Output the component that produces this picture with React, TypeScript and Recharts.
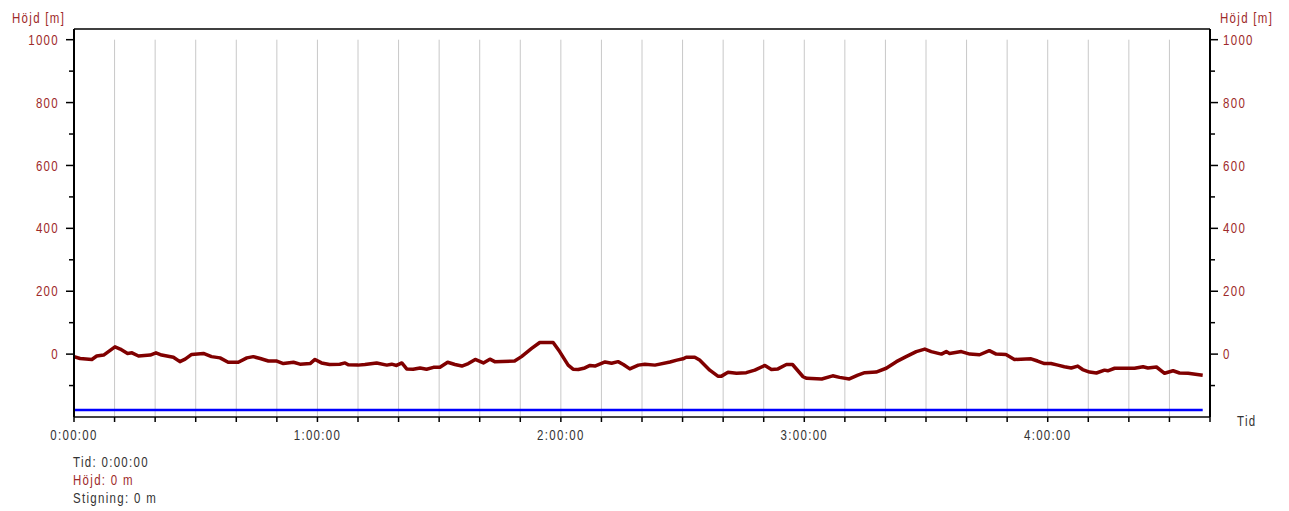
import React from 'react';
import { LineChart, Line, XAxis, YAxis, ReferenceLine } from 'recharts';

// Elevation profile: time in minutes, height in metres
const timeMin = [
  0, 1.5, 4.4, 5.6, 7.3, 10.1, 11.4, 13.2, 14.3, 15.9, 18.8, 20.2, 21.6, 24.5, 26.1, 27.4, 29.0, 31.9, 33.9, 36.0,
  38.0, 40.5, 42.6, 44.2, 45.9, 47.9, 50.0, 51.6, 54.1, 55.7, 58.2, 59.4, 61.0, 63.0, 65.5, 66.8, 67.6, 70.0, 71.7, 74.6,
  77.1, 78.3, 79.5, 80.8, 82.0, 83.6, 85.3, 86.9, 88.6, 90.2, 92.1, 93.9, 95.6, 97.2, 98.9, 100.9, 102.5, 103.7, 108.6, 110.3,
  112.8, 114.8, 118.1, 119.7, 121.8, 123.0, 124.3, 125.9, 127.2, 128.4, 130.9, 132.5, 134.1, 135.4, 137.0, 139.1, 140.7, 143.2, 146.9, 148.6,
  150.1, 150.9, 153.0, 154.2, 156.7, 158.7, 159.6, 161.2, 163.3, 165.7, 167.8, 170.3, 171.9, 173.5, 175.6, 177.1, 179.7, 180.6, 184.3, 187.0,
  188.7, 191.1, 193.2, 194.9, 197.7, 200.2, 202.7, 205.1, 207.6, 209.7, 211.3, 213.8, 215.0, 215.8, 218.7, 220.8, 223.2, 225.6, 227.3, 229.7,
  231.8, 233.4, 235.9, 237.5, 239.2, 240.8, 242.5, 244.1, 245.8, 247.4, 248.6, 250.3, 252.0, 254.0, 254.8, 256.5, 261.4, 263.5, 264.7, 266.8,
  268.8, 270.9, 272.5, 274.6, 278.2,
];
const heightM = [
  -8, -14, -17, -6, -3, 23, 16, 2, 4, -6, -3, 4, -3, -10, -24, -16, -1, 2, -8, -12,
  -26, -26, -12, -8, -14, -22, -22, -30, -26, -32, -30, -17, -28, -33, -32, -28, -34, -35, -33, -28,
  -35, -32, -36, -28, -47, -48, -44, -48, -42, -42, -26, -33, -38, -30, -17, -28, -16, -24, -22, -8,
  18, 37, 37, 8, -35, -48, -49, -44, -36, -38, -25, -29, -24, -33, -47, -35, -32, -35, -25, -19,
  -15, -10, -10, -19, -51, -70, -70, -58, -61, -59, -51, -36, -49, -47, -33, -33, -72, -77, -79, -69,
  -74, -79, -67, -59, -57, -45, -24, -8, 8, 16, 8, 0, 8, 2, 8, 0, -2, 11, 0, -1,
  -17, -16, -15, -22, -30, -30, -35, -40, -44, -38, -49, -57, -60, -51, -53, -45, -45, -40, -44, -41,
  -61, -53, -60, -61, -67,
];

// Blue (Stigning) baseline
const climbTime = [0, 278.2];
const climbLevel = [-178, -178];

// Cursor marker at the right edge
const cursorTime = 280;
const cursorRange = [-200, -124];

const xDomain = [0, 280];
const yDomain = [-200, 1034];
const xTicks = [0, 10, 20, 30, 40, 50, 60, 70, 80, 90, 100, 110, 120, 130, 140, 150, 160, 170, 180, 190, 200, 210, 220, 230, 240, 250, 260, 270, 280];
const xTickLabels = ['0:00:00', '1:00:00', '2:00:00', '3:00:00', '4:00:00'];
const gridTimes = [10, 20, 30, 40, 50, 60, 70, 80, 90, 100, 110, 120, 130, 140, 150, 160, 170, 180, 190, 200, 210, 220, 230, 240, 250, 260, 270];
const gridTop = 1000;
const yTicks = [-100, 0, 100, 200, 300, 400, 500, 600, 700, 800, 900, 1000];
const yTickLabels = ['0', '200', '400', '600', '800', '1000'];

const heightData = timeMin.map((t, i) => ({ t, h: heightM[i] }));
const climbData = climbTime.map((t, i) => ({ t, c: climbLevel[i] }));

const FONT = "'Liberation Sans', Arial, sans-serif";
const RED_TEXT = '#9e2a2a';
const DARK_TEXT = '#333333';
const textStyle: React.CSSProperties = { fontFamily: FONT, fontSize: 14, letterSpacing: '1.6px' };

// Narrow text: Liberation Sans compressed horizontally to mimic a narrow face
const NText = ({ x, y, anchor = 'start', fill, dy, children }: any) => (
  <text
    transform={`translate(${x},${y}) scale(0.82,1)`}
    x={0}
    y={0}
    dy={dy}
    textAnchor={anchor}
    fill={fill}
    style={textStyle}
  >
    {children}
  </text>
);

const XTick = (props: any) => {
  const { x, y, payload } = props;
  const v = payload.value;
  const label = v % 60 === 0 ? xTickLabels[v / 60] : null;
  return (
    <g>
      <line x1={x} y1={y} x2={x} y2={y + 5} stroke="#000" strokeWidth={1.5} />
      {label && (
        <NText x={x} y={y + 23} anchor="middle" fill={DARK_TEXT}>
          {label}
        </NText>
      )}
    </g>
  );
};

const LeftTick = (props: any) => {
  const { x, y, payload } = props;
  const v = payload.value;
  const label = yTickLabels.includes(String(v)) ? String(v) : null;
  const len = label ? 8 : 5;
  return (
    <g>
      <line x1={x} y1={y} x2={x - len} y2={y} stroke="#000" strokeWidth={1.5} />
      {label && (
        <NText x={x - 15} y={y} dy="0.36em" anchor="end" fill={RED_TEXT}>
          {label}
        </NText>
      )}
    </g>
  );
};

const RightTick = (props: any) => {
  const { x, y, payload } = props;
  const v = payload.value;
  const label = yTickLabels.includes(String(v)) ? String(v) : null;
  const len = label ? 8 : 5;
  return (
    <g>
      <line x1={x} y1={y} x2={x + len} y2={y} stroke="#000" strokeWidth={1.5} />
      {label && (
        <NText x={x + 13} y={y} dy="0.36em" anchor="start" fill={RED_TEXT}>
          {label}
        </NText>
      )}
    </g>
  );
};

export default function App() {
  return (
    <div style={{ position: 'absolute', left: 0, top: 0, width: 1289, height: 511, background: '#fff' }}>
      <LineChart width={1289} height={511} margin={{ top: 29, right: 19, bottom: 64, left: 14 }}>
        <XAxis
          dataKey="t"
          type="number"
          domain={xDomain}
          ticks={xTicks}
          interval={0}
          allowDataOverflow
          tickSize={0}
          tickMargin={0}
          tickLine={false}
          tick={<XTick />}
          axisLine={{ stroke: '#444', strokeWidth: 2 }}
          height={30}
        />
        <YAxis
          yAxisId="left"
          type="number"
          domain={yDomain}
          ticks={yTicks}
          interval={0}
          allowDataOverflow
          tickSize={0}
          tickMargin={0}
          tickLine={false}
          tick={<LeftTick />}
          axisLine={{ stroke: '#000', strokeWidth: 2 }}
          width={60}
        />
        <YAxis
          yAxisId="right"
          orientation="right"
          type="number"
          domain={yDomain}
          ticks={yTicks}
          interval={0}
          allowDataOverflow
          tickSize={0}
          tickMargin={0}
          tickLine={false}
          tick={<RightTick />}
          axisLine={{ stroke: '#000', strokeWidth: 2 }}
          width={60}
        />
        {gridTimes.map((g) => (
          <ReferenceLine
            key={g}
            yAxisId="left"
            segment={[{ x: g, y: gridTop }, { x: g, y: yDomain[0] }]}
            stroke="#c8c8c8"
            strokeWidth={1}
          />
        ))}
        <ReferenceLine yAxisId="left" y={yDomain[1]} stroke="#000" strokeWidth={1.5} />
        <Line
          yAxisId="left"
          data={climbData}
          dataKey="c"
          type="linear"
          stroke="#0000ff"
          strokeWidth={2.5}
          dot={false}
          isAnimationActive={false}
        />
        <Line
          yAxisId="left"
          data={heightData}
          dataKey="h"
          type="linear"
          stroke="#800000"
          strokeWidth={3.5}
          strokeLinejoin="round"
          dot={false}
          isAnimationActive={false}
        />
        <ReferenceLine
          yAxisId="left"
          segment={[{ x: cursorTime, y: cursorRange[0] }, { x: cursorTime, y: cursorRange[1] }]}
          stroke="#b00000"
          strokeWidth={1.5}
        />
      </LineChart>
      <svg
        width={1289}
        height={511}
        style={{ position: 'absolute', left: 0, top: 0, pointerEvents: 'none' }}
      >
        <NText x={12} y={23} fill={RED_TEXT}>Höjd [m]</NText>
        <NText x={1220} y={23} fill={RED_TEXT}>Höjd [m]</NText>
        <NText x={1237} y={426} fill={DARK_TEXT}>Tid</NText>
        <NText x={73} y={467} fill={DARK_TEXT}>Tid: 0:00:00</NText>
        <NText x={73} y={485} fill={RED_TEXT}>Höjd: 0 m</NText>
        <NText x={73} y={503} fill={DARK_TEXT}>Stigning: 0 m</NText>
      </svg>
    </div>
  );
}
